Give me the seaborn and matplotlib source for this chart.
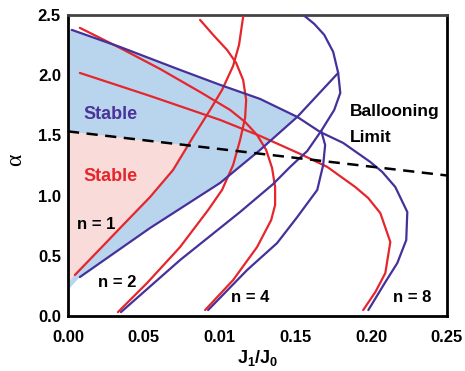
import numpy as np
import pandas as pd
import matplotlib
matplotlib.use("Agg")
import matplotlib.pyplot as plt
import seaborn as sns

# values (x = J1/J0, y = alpha)
red_n1_x = [0.0046, 0.0211, 0.0376, 0.0542, 0.0694, 0.0826, 0.0938, 0.1017, 0.1090, 0.1129, 0.1156]
red_n1_y = [0.341, 0.556, 0.772, 0.988, 1.213, 1.487, 1.711, 1.877, 2.076, 2.251, 2.483]

red_n2_x = [0.0330, 0.0522, 0.0740, 0.0925, 0.1017, 0.1090, 0.1136, 0.1169, 0.1176, 0.1156, 0.1110, 0.1050, 0.0958, 0.0872]
red_n2_y = [0.033, 0.274, 0.573, 0.880, 1.047, 1.254, 1.462, 1.645, 1.794, 1.960, 2.101, 2.209, 2.334, 2.458]

red_n4_x = [0.0905, 0.1090, 0.1248, 0.1341, 0.1367, 0.1367, 0.1347, 0.1308, 0.1248, 0.1169, 0.1070, 0.0872, 0.0608, 0.0343, 0.0079]
red_n4_y = [0.050, 0.299, 0.573, 0.797, 0.922, 1.071, 1.229, 1.379, 1.503, 1.611, 1.711, 1.860, 2.051, 2.226, 2.392]

red_n8_x = [0.1948, 0.2028, 0.2094, 0.2127, 0.2061, 0.1981, 0.1896, 0.1711, 0.1532, 0.1268, 0.1004, 0.0542, 0.0079]
red_n8_y = [0.050, 0.199, 0.357, 0.615, 0.855, 0.980, 1.071, 1.238, 1.346, 1.495, 1.628, 1.827, 2.018]

blue_n1_x = [0.0079, 0.0542, 0.1004, 0.1268, 0.1513, 0.1783]
blue_n1_y = [0.324, 0.731, 1.105, 1.379, 1.653, 2.018]

blue_n2_x = [0.0350, 0.0740, 0.1136, 0.1354, 0.1466, 0.1579, 0.1671, 0.1757, 0.1797, 0.1783, 0.1750, 0.1691, 0.1625, 0.1552]
blue_n2_y = [0.033, 0.465, 0.864, 1.096, 1.238, 1.370, 1.537, 1.711, 1.852, 2.018, 2.193, 2.334, 2.425, 2.500]

blue_n4_x = [0.0925, 0.1182, 0.1380, 0.1513, 0.1645, 0.1684, 0.1697, 0.1671]
blue_n4_y = [0.050, 0.382, 0.606, 0.822, 1.047, 1.254, 1.420, 1.537]

blue_n8_x = [0.0026, 0.0343, 0.0740, 0.1004, 0.1268, 0.1513, 0.1664, 0.1816, 0.1995, 0.2074, 0.2160, 0.2239, 0.2232, 0.2173, 0.2094, 0.1982]
blue_n8_y = [2.375, 2.234, 2.043, 1.919, 1.802, 1.653, 1.528, 1.437, 1.279, 1.196, 1.071, 0.864, 0.631, 0.440, 0.282, 0.050]

balloon_x = [0.0, 0.25]
balloon_y = [1.533, 1.167]

# where the stable regions meet the left axis
blue_fill_left = [0.216, 2.39]
pink_fill_left = 0.274

xticks = [0.0, 0.05, 0.10, 0.15, 0.20, 0.25]
xticklabels = ['0.00', '0.05', '0.01', '0.15', '0.20', '0.25']
yticks = [0.0, 0.5, 1.0, 1.5, 2.0, 2.5]
yticklabels = ['0.0', '0.5', '1.0', '1.5', '2.0', '2.5']

RED = '#e5262c'
BLUE = '#46309a'

sns.set_style('white')
plt.rcParams['font.family'] = ['Liberation Sans', 'DejaVu Sans']
plt.rcParams['font.weight'] = 'bold'
plt.rcParams['mathtext.fontset'] = 'custom'
plt.rcParams['mathtext.rm'] = 'Liberation Sans:bold'
plt.rcParams['mathtext.bf'] = 'Liberation Sans:bold'
for key in ['text.color', 'axes.labelcolor', 'xtick.color', 'ytick.color']:
    plt.rcParams[key] = 'black'

fig, ax = plt.subplots(figsize=(4.65, 3.71), dpi=100)
fig.subplots_adjust(left=0.146, right=0.961, top=0.960, bottom=0.148)

# blue stable region: under the upper blue line, above the n=1 blue line
fx = [0.0] + blue_n8_x[:6] + blue_n1_x[:4][::-1] + [0.0]
fy = [blue_fill_left[1]] + blue_n8_y[:6] + blue_n1_y[:4][::-1] + [blue_fill_left[0]]
ax.fill(fx, fy, color='#b9d5ee', lw=0, zorder=1)

# pink stable region: below ballooning limit, left of red n=1
xs = np.linspace(red_n1_x[0], red_n1_x[-1], 400)
ys = np.interp(xs, red_n1_x, red_n1_y)
yd = np.interp(xs, balloon_x, balloon_y)
keep = ys <= yd
px = [0.0] + list(xs[keep][::-1]) + [0.0]
py = [balloon_y[0]] + list(ys[keep][::-1]) + [pink_fill_left]
ax.fill(px, py, color='#f9dcd9', lw=0, zorder=2)

curves = [
    (red_n1_x, red_n1_y, RED), (red_n2_x, red_n2_y, RED),
    (red_n4_x, red_n4_y, RED), (red_n8_x, red_n8_y, RED),
    (blue_n1_x, blue_n1_y, BLUE), (blue_n2_x, blue_n2_y, BLUE),
    (blue_n4_x, blue_n4_y, BLUE), (blue_n8_x, blue_n8_y, BLUE),
]
for cx, cy, col in curves:
    df = pd.DataFrame({'x': cx, 'y': cy})
    sns.lineplot(data=df, x='x', y='y', sort=False, estimator=None,
                 color=col, lw=1.6, ax=ax, zorder=3)

sns.lineplot(x=balloon_x, y=balloon_y, color='black', lw=1.8, ax=ax,
             dashes=False, zorder=4).lines[-1].set_dashes([4.5, 3])

ax.text(0.0284, 1.669, 'Stable', color='#4b3399', fontsize=13, fontweight='bold', ha='center', va='center')
ax.text(0.0284, 1.155, 'Stable', color=RED, fontsize=13, fontweight='bold', ha='center', va='center')
ax.text(0.0185, 0.756, 'n = 1', fontsize=12, fontweight='bold', ha='center', va='center')
ax.text(0.0324, 0.282, 'n = 2', fontsize=12, fontweight='bold', ha='center', va='center')
ax.text(0.1200, 0.158, 'n = 4', fontsize=12, fontweight='bold', ha='center', va='center')
ax.text(0.2272, 0.158, 'n = 8', fontsize=12, fontweight='bold', ha='center', va='center')
ax.text(0.1863, 1.694, 'Ballooning', fontsize=12.5, fontweight='bold', ha='left', va='center')
ax.text(0.1863, 1.478, 'Limit', fontsize=12.5, fontweight='bold', ha='left', va='center')

ax.set_xlim(0, 0.25)
ax.set_ylim(0, 2.5)
ax.set_xticks(xticks)
ax.set_xticklabels(xticklabels)
ax.set_yticks(yticks)
ax.set_yticklabels(yticklabels)
ax.tick_params(axis='both', direction='in', length=4, width=1.5, labelsize=12)
ax.tick_params(axis='x', pad=10)
ax.tick_params(axis='y', pad=5)
for s in ax.spines.values():
    s.set_color('black')
    s.set_linewidth(2)
ax.spines['top'].set_color('#444444')

ax.set_xlabel(r'J$_1$/J$_0$', fontsize=13, fontweight='bold', labelpad=2)
ax.set_ylabel('α', fontsize=17, family=['Liberation Serif', 'DejaVu Serif'], fontweight='normal')
ax.yaxis.set_label_coords(-0.11, 0.52)

fig.savefig('out.png', dpi=100)
